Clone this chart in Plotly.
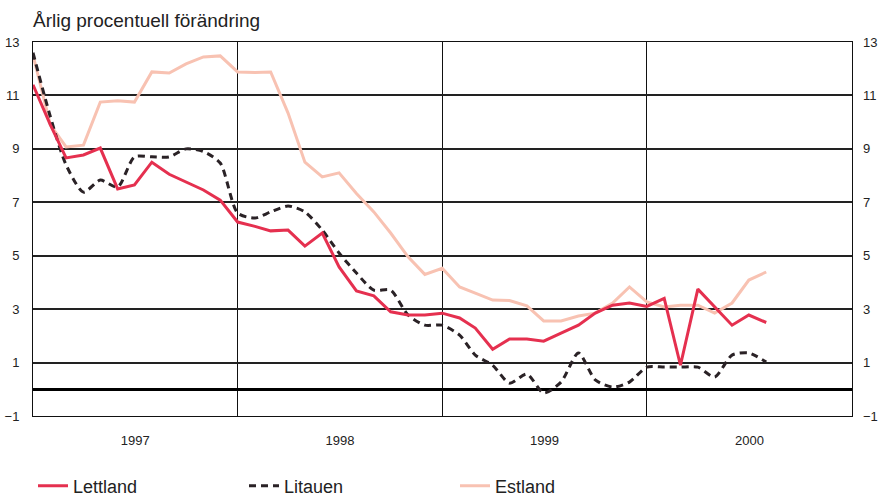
import pandas as pd
import plotly.graph_objects as go

months = pd.date_range("1997-01-01", periods=44, freq="MS")

lettland = [11.4, 9.9, 8.66, 8.77, 9.03, 7.5, 7.65, 8.5, 8.05, 7.75, 7.46, 7.08,
            6.26, 6.1, 5.93, 5.96, 5.36, 5.85, 4.58, 3.68, 3.5, 2.9, 2.78, 2.78,
            2.85, 2.67, 2.29, 1.5, 1.88, 1.88, 1.8, 2.1, 2.4, 2.85, 3.15, 3.23,
            3.1, 3.4, 0.9, 3.75, 3.1, 2.4, 2.78, 2.5]

litauen = [12.6, 10.2, 8.4, 7.38, 7.83, 7.57, 8.7, 8.7, 8.7, 9.0, 8.9, 8.47,
           6.6, 6.41, 6.64, 6.86, 6.64, 5.96, 5.1, 4.35, 3.71, 3.71, 2.78, 2.4,
           2.4, 2.03, 1.28, 0.9, 0.23, 0.57, -0.14, 0.27, 1.36, 0.35, 0.08, 0.27,
           0.83, 0.83, 0.83, 0.83, 0.46, 1.28, 1.36, 1.02]

estland = [12.51, 9.9, 9.07, 9.14, 10.75, 10.8, 10.75, 11.88, 11.84, 12.18, 12.44, 12.48,
           11.88, 11.86, 11.88, 10.34, 8.5, 7.95, 8.1, 7.33, 6.64, 5.85, 4.96, 4.3,
           4.53, 3.83, 3.6, 3.34, 3.32, 3.12, 2.56, 2.56, 2.74, 2.85, 3.23, 3.83,
           3.27, 3.08, 3.15, 3.15, 2.85, 3.23, 4.09, 4.39]

y_ticks = [-1, 1, 3, 5, 7, 9, 11, 13]
x_start, x_end = "1997-01-01", "2001-01-01"

RED = "#E5304F"
PINK = "#F8C2B2"
DARK = "#2A2226"
NARROW = "Liberation Sans Narrow, Arial Narrow, sans-serif"

fig = go.Figure()
# invisible helper trace so the right-hand axis is drawn
fig.add_trace(go.Scatter(x=months, y=lettland, yaxis="y2", mode="lines",
                         line=dict(width=0), opacity=0, showlegend=False,
                         hoverinfo="skip"))
fig.add_trace(go.Scatter(x=months, y=estland, name="Estland", mode="lines",
                         line=dict(color=PINK, width=3)))
fig.add_trace(go.Scatter(x=months, y=litauen, name="Litauen", mode="lines",
                         line=dict(color=DARK, width=3, dash="7px,5px",
                                   shape="spline", smoothing=0.7)))
fig.add_trace(go.Scatter(x=months, y=lettland, name="Lettland", mode="lines",
                         line=dict(color=RED, width=3)))

fig.update_layout(
    width=881, height=496,
    margin=dict(l=33, r=29, t=42, b=80, autoexpand=False),
    paper_bgcolor="white", plot_bgcolor="white",
    font=dict(family=NARROW, size=13, color="#222"),
    title=dict(text="Årlig procentuell förändring", xref="container", x=33/881,
               xanchor="left", y=1 - 20/496, yanchor="middle",
               font=dict(family="Liberation Sans, Arial, sans-serif", size=19, color="#222")),
    xaxis=dict(type="date", range=[x_start, x_end], tick0="1997-01-01", dtick="M12",
               tickformat="%Y", ticklabelmode="period", showgrid=True,
               gridcolor="#111", gridwidth=1, showline=True, linecolor="#111",
               linewidth=1, mirror=True, ticks="", ticklabelstandoff=12,
               zeroline=False, automargin=False),
    yaxis=dict(range=[-1, 13], tickvals=y_ticks, showgrid=True, gridcolor="#222",
               gridwidth=1.5, showline=True, linecolor="#111", linewidth=1,
               mirror=True, zeroline=True, zerolinecolor="#000", zerolinewidth=3,
               ticks="", ticklabelstandoff=10, automargin=False),
    yaxis2=dict(range=[-1, 13], tickvals=y_ticks, overlaying="y", side="right",
                showgrid=False, zeroline=False, showline=False, ticks="",
                ticklabelstandoff=10, automargin=False),
    legend=dict(orientation="h", x=0, xanchor="left", y=-0.138, yanchor="top",
                entrywidth=166, entrywidthmode="pixels",
                font=dict(family=NARROW, size=18, color="#222"),
                traceorder="reversed"),
    showlegend=True,
)

fig.write_html("out.html", config={"displayModeBar": False},
               post_script="document.body.style.margin='0';document.body.style.overflow='hidden';")
